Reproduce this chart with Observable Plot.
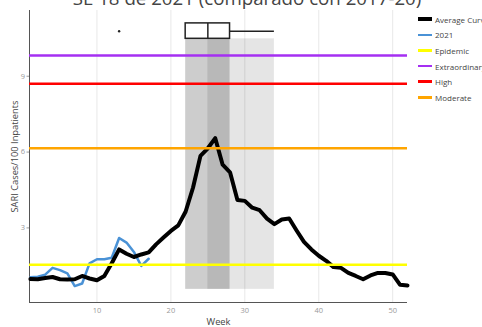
<!DOCTYPE html>
<html><head><meta charset="utf-8">
<script src="https://cdn.jsdelivr.net/npm/d3@7"></script>
<script src="https://cdn.jsdelivr.net/npm/@observablehq/plot@0.6"></script>
<style>
html,body{margin:0;padding:0;background:#fff;}
#wrap{position:relative;width:482px;height:327px;overflow:hidden;font-family:"Open Sans",sans-serif;}
#chart{position:absolute;left:0;top:0;}
#title{position:absolute;left:0;width:494px;text-align:center;top:-11px;font-size:18.7px;line-height:18.7px;color:#444;white-space:nowrap;}
#legend{position:absolute;left:418px;top:11.5px;}
.item{display:flex;align-items:center;height:15.6px;font-size:8px;color:#444;white-space:nowrap;}
.sw{width:14px;margin-right:3px;}
</style></head><body>
<div id="wrap"><div id="chart"></div><div id="title">SE 18 de 2021 (comparado con 2017-20)</div><div id="legend"></div></div>
<script>
const weeks = d3.range(1, 53);
const avgCurve = [0.98,0.97,1.02,1.06,0.97,0.96,0.97,1.10,1.00,0.93,1.10,1.60,2.15,1.98,1.85,1.95,2.03,2.35,2.62,2.88,3.10,3.65,4.60,5.85,6.15,6.55,5.50,5.20,4.10,4.07,3.80,3.70,3.37,3.15,3.33,3.37,2.90,2.45,2.15,1.90,1.70,1.45,1.42,1.22,1.10,0.97,1.12,1.22,1.22,1.16,0.75,0.72];
const weeks2021 = d3.range(1, 18);
const values2021 = [1.05,1.07,1.15,1.42,1.33,1.20,0.70,0.80,1.60,1.76,1.76,1.82,2.60,2.42,2.05,1.50,1.78];
const thresholdNames = ["Epidemic","Extraordinary","High","Moderate"];
const thresholdValues = [1.54, 9.82, 8.70, 6.15];
const thresholdColors = ["#ffff00","#a52ff2","#ff0000","#ffa500"];
const peakWeekMin = 22, peakWeekQ1 = 22, peakWeekMedian = 25, peakWeekQ3 = 28, peakWeekMax = 34;
const peakWeekOutliers = [13];
const xTicks = [10,20,30,40,50];
const yTicks = [3,6,9];
const legendNames = ["Average Curve","2021",...thresholdNames];
const legendColors = ["#000000","#4a92d6",...thresholdColors];

const avgData = weeks.map((w,i)=>({week:w, value:avgCurve[i]}));
const data2021 = weeks2021.map((w,i)=>({week:w, value:values2021[i]}));
const thresholds = thresholdNames.map((n,i)=>({name:n, value:thresholdValues[i], color:thresholdColors[i]}));
const bands = [[peakWeekMin,peakWeekMax],[peakWeekQ1,peakWeekQ3],[peakWeekMedian,peakWeekQ3]].map(([a,b])=>({x1:a,x2:b}));
const boxLow = 10.48, boxHigh = 11.09, boxMid = 10.78, shadeLow = 0.57;

const chart = Plot.plot({
  width: 482, height: 327,
  marginLeft: 29, marginRight: 75, marginTop: 10, marginBottom: 25,
  style: {fontFamily: '"Open Sans", sans-serif', background: "transparent"},
  x: {domain: [0.88, 52]},
  y: {domain: [0.05, 11.6]},
  marks: [
    Plot.gridX(xTicks, {stroke: "#e8e8e8", strokeOpacity: 1, strokeWidth: 1}),
    Plot.rect(bands, {x1: "x1", x2: "x2", y1: () => shadeLow, y2: () => boxLow, fill: "#000", fillOpacity: 0.1}),
    Plot.axisX({ticks: xTicks, tickSize: 0, tickPadding: 5, fontSize: 7.5, color: "#999", label: "Week", labelAnchor: "center", labelArrow: "none", labelOffset: 22}),
    Plot.axisY({ticks: yTicks, tickSize: 2.5, tickPadding: 2, fontSize: 7.5, color: "#999", label: "SARI Cases/100 Inpatients", labelAnchor: "center", labelArrow: "none", labelOffset: 18}),
    Plot.ruleX([0.88], {stroke: "#555", strokeWidth: 1}),
    Plot.ruleY([0.05], {stroke: "#555", strokeWidth: 1}),
    Plot.line(data2021, {x: "week", y: "value", stroke: "#4a92d6", strokeWidth: 2.5}),
    Plot.line(avgData, {x: "week", y: "value", stroke: "#000", strokeWidth: 4}),
    Plot.ruleY(thresholds, {y: "value", stroke: "color", strokeWidth: 2.5}),
    Plot.ruleY([boxMid], {x1: peakWeekQ3, x2: peakWeekMax, stroke: "#222", strokeWidth: 1.5}),
    Plot.rect([0], {x1: () => peakWeekQ1, x2: () => peakWeekQ3, y1: () => boxLow, y2: () => boxHigh, fill: "#fff", stroke: "#222", strokeWidth: 1.5}),
    Plot.ruleX([peakWeekMedian], {y1: boxLow, y2: boxHigh, stroke: "#222", strokeWidth: 1.5}),
    Plot.dot(peakWeekOutliers, {x: d => d, y: () => boxMid, r: 1.2, fill: "#222", stroke: null})
  ]
});
chart.querySelectorAll('[aria-label="x-axis label"] text, [aria-label="y-axis label"] text').forEach(t => { t.setAttribute("fill", "#444"); t.style.fontSize = "9.3px"; });
document.getElementById("chart").appendChild(chart);

const legend = document.getElementById("legend");
legendNames.forEach((n,i)=>{
  const item = document.createElement("div"); item.className = "item";
  const sw = document.createElement("span"); sw.className = "sw";
  sw.style.height = (i === 0 ? 4 : 2.5) + "px"; sw.style.background = legendColors[i];
  const tx = document.createElement("span"); tx.textContent = n;
  item.appendChild(sw); item.appendChild(tx); legend.appendChild(item);
});
</script>
</body></html>
